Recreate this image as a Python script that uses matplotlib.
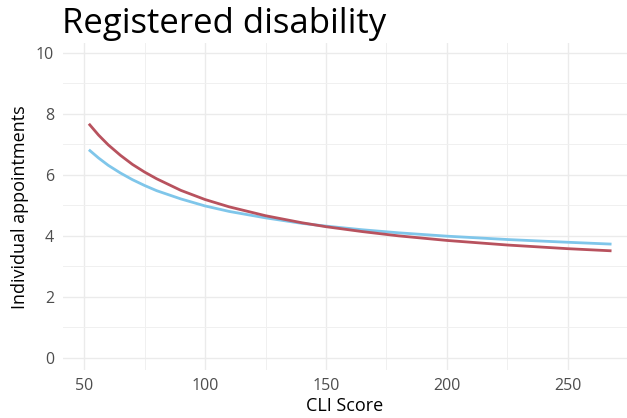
import matplotlib
matplotlib.use("Agg")
import matplotlib.pyplot as plt
from matplotlib.ticker import MultipleLocator

plt.rcParams['font.family'] = ['Open Sans', 'DejaVu Sans']

# values
cli = [52, 56, 60, 65, 70, 75, 80, 90, 100, 110, 125, 140, 150, 165, 180, 200, 225, 250, 268]
red_appts = [7.67, 7.30, 6.98, 6.64, 6.34, 6.09, 5.87, 5.49, 5.19, 4.95, 4.66, 4.43, 4.30,
             4.14, 4.00, 3.85, 3.70, 3.58, 3.51]
blue_appts = [6.82, 6.55, 6.31, 6.06, 5.84, 5.65, 5.48, 5.21, 4.98, 4.80, 4.59, 4.41, 4.32,
              4.20, 4.10, 3.99, 3.88, 3.79, 3.73]

fig = plt.figure(figsize=(6.27, 4.18), dpi=100)
ax = fig.add_axes([0.0997, 0.115, 0.9003, 0.781])

ax.plot(cli, blue_appts, color='#7FC6EA', lw=2.0, solid_capstyle='butt')
ax.plot(cli, red_appts, color='#B8525E', lw=2.0, solid_capstyle='butt')

ax.set_xlim(41.1, 274.4)
ax.set_ylim(-0.39, 10.3)
ax.xaxis.set_major_locator(MultipleLocator(50))
ax.xaxis.set_minor_locator(MultipleLocator(25))
ax.yaxis.set_major_locator(MultipleLocator(2))
ax.yaxis.set_minor_locator(MultipleLocator(1))

ax.grid(which='major', color='#EBEBEB', lw=1.0)
ax.grid(which='minor', color='#F0F0F0', lw=0.7)
ax.set_axisbelow(True)
for s in ax.spines.values():
    s.set_visible(False)
ax.tick_params(which='both', length=0)
ax.tick_params(axis='x', pad=6, labelsize=11.5, labelcolor='#4D4D4D')
ax.tick_params(axis='y', pad=6, labelsize=11.5, labelcolor='#4D4D4D')

ax.set_xlabel('CLI Score', fontsize=13, labelpad=2)
ax.set_ylabel('Individual appointments', fontsize=13, labelpad=5)
fig.text(0.099, 0.92, 'Registered disability', fontsize=25, ha='left', va='baseline')

fig.savefig('out.png', dpi=100)
